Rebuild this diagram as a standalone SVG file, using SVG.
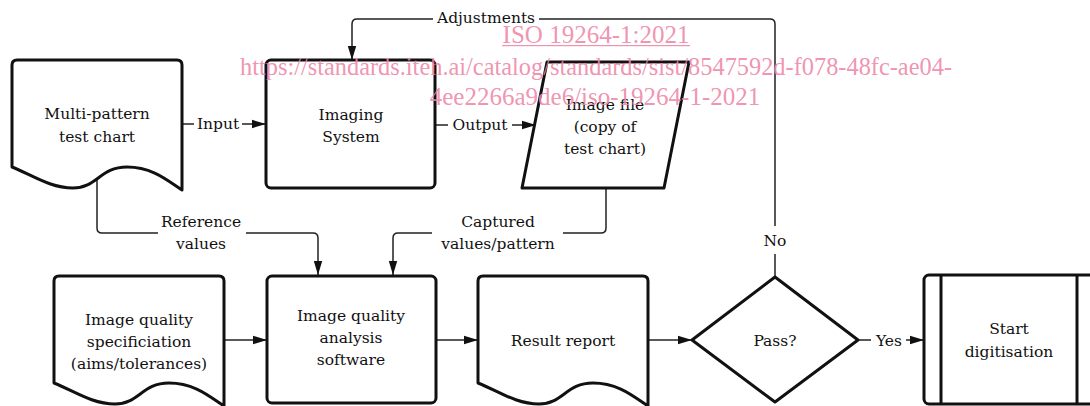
<svg xmlns="http://www.w3.org/2000/svg" width="1090" height="406" viewBox="0 0 1090 406">
<defs>
<style>
.shape{fill:#fff;stroke:#111;stroke-width:3;stroke-linejoin:round}
.conn{fill:none;stroke:#222;stroke-width:1.5}
.lbl{font-family:"DejaVu Serif",serif;font-size:15.5px;fill:#111;text-anchor:middle}
.wm{font-family:"Liberation Serif",serif;font-size:25px;fill:#ee87a7;fill-opacity:0.9;text-anchor:middle}
</style>
<marker id="arr" markerUnits="userSpaceOnUse" markerWidth="15" markerHeight="10" refX="14" refY="5" orient="auto">
<path d="M0,0.8 L14,5 L0,9.2 Z" fill="#111"/>
</marker>
<path id="doc" d="M0,5 Q0,0 5,0 H165 Q170,0 170,5 V130 C155,120 140,107 115,107 C88,107 85,128 61,128 C38,128 20,115 0,107 Z"/>
</defs>
<rect width="1090" height="406" fill="#fff"/>

<g id="connectors">
<path class="conn" d="M182,124 H194"/>
<text class="lbl" x="218" y="129">Input</text>
<path class="conn" d="M242,124 H266" marker-end="url(#arr)"/>
<path class="conn" d="M435,125 H448"/>
<text class="lbl" x="480" y="130">Output</text>
<path class="conn" d="M512,125 H536" marker-end="url(#arr)"/>
<path class="conn" d="M775,277 V254"/>
<text class="lbl" x="775" y="246">No</text>
<path class="conn" d="M775,226 V24 Q775,19 770,19 H539"/>
<text class="lbl" x="486" y="23">Adjustments</text>
<path class="conn" d="M433,19 H357 Q352,19 352,24 V60" marker-end="url(#arr)"/>
<path class="conn" d="M97,175 V228 Q97,233 102,233 H158"/>
<text class="lbl" x="201" y="227">Reference</text>
<text class="lbl" x="201" y="249">values</text>
<path class="conn" d="M246,233 H313 Q318,233 318,238 V275" marker-end="url(#arr)"/>
<path class="conn" d="M606,188 V228 Q606,233 601,233 H563"/>
<text class="lbl" x="498" y="227">Captured</text>
<text class="lbl" x="498" y="249">values/pattern</text>
<path class="conn" d="M432,233 H398 Q393,233 393,238 V275" marker-end="url(#arr)"/>
<path class="conn" d="M223,340 H267" marker-end="url(#arr)"/>
<path class="conn" d="M436,340 H478" marker-end="url(#arr)"/>
<path class="conn" d="M648,340 H692" marker-end="url(#arr)"/>
<path class="conn" d="M858,340 H871"/>
<text class="lbl" x="889" y="346">Yes</text>
<path class="conn" d="M906,340 H924" marker-end="url(#arr)"/>
</g>

<g id="test-chart">
<use href="#doc" class="shape" x="12" y="60"/>
<text class="lbl" x="97" y="119">Multi-pattern</text>
<text class="lbl" x="97" y="142">test chart</text>
</g>

<g id="imaging-system">
<rect class="shape" x="266" y="60" width="169" height="128" rx="5"/>
<text class="lbl" x="351" y="120">Imaging</text>
<text class="lbl" x="351" y="142">System</text>
</g>

<g id="image-file">
<polygon class="shape" points="547,62 689,62 664,188 522,188"/>
<text class="lbl" x="605" y="110">Image file</text>
<text class="lbl" x="605" y="132">(copy of</text>
<text class="lbl" x="605" y="154">test chart)</text>
</g>

<g id="iq-spec">
<use href="#doc" class="shape" x="54" y="276"/>
<text class="lbl" x="139" y="325">Image quality</text>
<text class="lbl" x="139" y="347">specificiation</text>
<text class="lbl" x="139" y="369">(aims/tolerances)</text>
</g>

<g id="iq-analysis">
<rect class="shape" x="267" y="276" width="169" height="127" rx="5"/>
<text class="lbl" x="351" y="321">Image quality</text>
<text class="lbl" x="351" y="343">analysis</text>
<text class="lbl" x="351" y="365">software</text>
</g>

<g id="result-report">
<use href="#doc" class="shape" x="478" y="276"/>
<text class="lbl" x="563" y="346">Result report</text>
</g>

<g id="pass">
<polygon class="shape" points="775,277 858,340 775,402 692,340"/>
<text class="lbl" x="775" y="346">Pass?</text>
</g>

<g id="start-digitisation">
<rect class="shape" x="924" y="275" width="172" height="129" rx="5"/>
<path fill="none" stroke="#111" stroke-width="3" d="M941,275 V404 M1077,275 V404"/>
<text class="lbl" x="1009" y="334">Start</text>
<text class="lbl" x="1009" y="357">digitisation</text>
</g>

<g id="watermark">
<text class="wm" x="596" y="43">ISO 19264-1:2021</text>
<rect x="502" y="45" width="188" height="1.2" fill="#ee87a7" fill-opacity="0.9"/>
<text class="wm" x="596" y="75" textLength="712" lengthAdjust="spacingAndGlyphs">https://standards.iteh.ai/catalog/standards/sist/8547592d-f078-48fc-ae04-</text>
<text class="wm" x="595" y="105">4ee2266a9de6/iso-19264-1-2021</text>
</g>
</svg>
